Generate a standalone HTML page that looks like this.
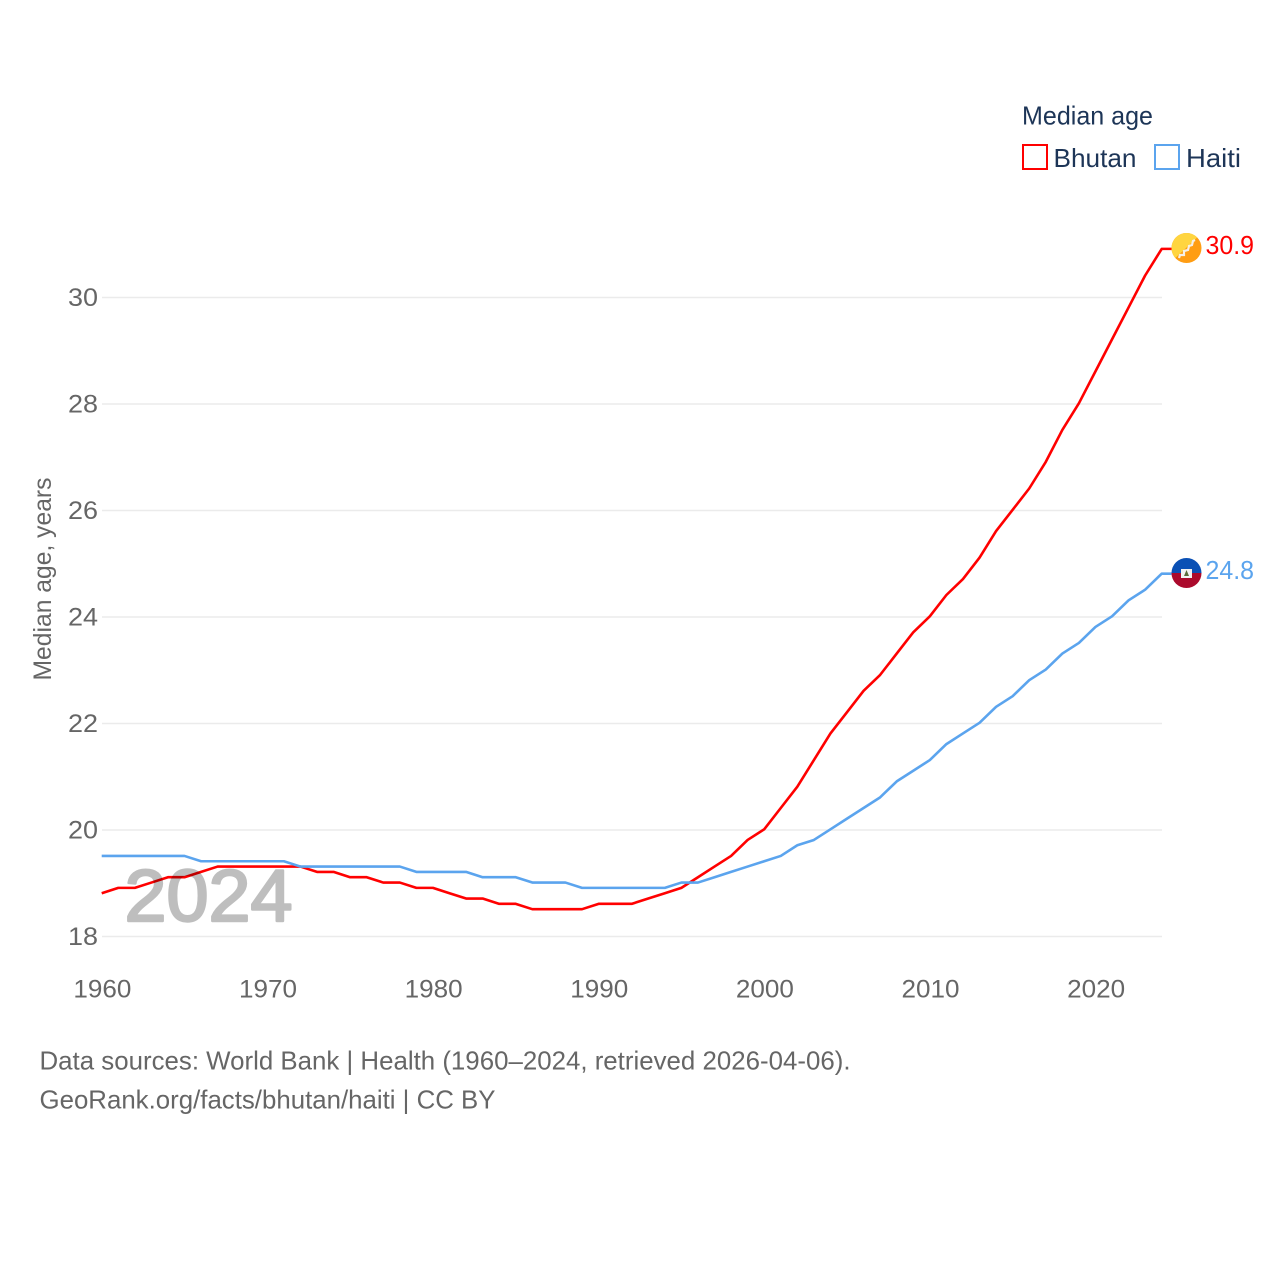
<!DOCTYPE html>
<html lang="en">
<head>
<meta charset="utf-8">
<title>Median age: Bhutan and Haiti</title>
<style>
html,body{margin:0;padding:0;background:#fff;width:1280px;height:1280px;overflow:hidden}
svg{display:block;font-family:"Liberation Sans",sans-serif}
</style>
</head>
<body>
<svg id="chart" xmlns="http://www.w3.org/2000/svg" width="1280" height="1280" viewBox="0 0 1280 1280">
  <defs>
    <clipPath id="flag-clip-bt"><circle cx="1186.5" cy="248" r="15"></circle></clipPath>
    <clipPath id="flag-clip-ht"><circle cx="1186.5" cy="573" r="15"></circle></clipPath>
  </defs>
  <g id="grid"></g>
  <g id="yticks"></g>
  <g id="xticks"></g>
  <text transform="translate(51,579) rotate(-90)" text-anchor="middle" font-size="25" fill="#666" textLength="203" lengthAdjust="spacingAndGlyphs">Median age, years</text>
  <g id="series" transform="translate(-0.3,-0.7)"></g>
  <g opacity="0.25">
    <text x="208.5" y="921" text-anchor="middle" font-size="73" font-weight="400" fill="#000" stroke="#000" stroke-width="2.4" stroke-linejoin="round" textLength="168" lengthAdjust="spacingAndGlyphs">2024</text>
  </g>

  <g>
    <text x="1022" y="124.5" font-size="26" fill="#1d3557" textLength="131" lengthAdjust="spacingAndGlyphs">Median age</text>
    <rect x="1023" y="145" width="24" height="24" fill="#fff" stroke="#ff0000" stroke-width="2"></rect>
    <text x="1053.5" y="167" font-size="26" fill="#1d3557" textLength="83" lengthAdjust="spacingAndGlyphs">Bhutan</text>
    <rect x="1155" y="145" width="24" height="24" fill="#fff" stroke="#5ba4ee" stroke-width="2"></rect>
    <text x="1186" y="167" font-size="26" fill="#1d3557" textLength="55" lengthAdjust="spacingAndGlyphs">Haiti</text>
  </g>

  <g clip-path="url(#flag-clip-bt)">
    <rect x="1170" y="232" width="33" height="32" fill="#ff9d13"></rect>
    <polygon points="1170,232 1203,232 1170,263" fill="#ffd540"></polygon>
    <polyline points="1179,258 1180,255 1184,255 1184,251 1188,250 1189,246 1192,245 1193,241 1195,240" fill="none" stroke="#f5f0e6" stroke-width="2.2"></polyline>
  </g>
  <g clip-path="url(#flag-clip-ht)">
    <rect x="1170" y="557" width="33" height="16" fill="#0a50b5"></rect>
    <rect x="1170" y="573" width="33" height="16" fill="#ab0a2c"></rect>
    <rect x="1181" y="569" width="11" height="9" fill="#f2f2f2"></rect>
    <polygon points="1186.5,570 1189,576 1184,576" fill="#5a6a3a"></polygon>
  </g>
  <text id="label-bhutan" x="1205.5" y="254" font-size="26" fill="#ff0000" textLength="48.5" lengthAdjust="spacingAndGlyphs">30.9</text>
  <text id="label-haiti" x="1205.5" y="579" font-size="26" fill="#5ba4ee" textLength="48.5" lengthAdjust="spacingAndGlyphs">24.8</text>

  <g>
    <text x="39.5" y="1069.5" font-size="26" fill="#666" textLength="811" lengthAdjust="spacingAndGlyphs">Data sources: World Bank | Health (1960–2024, retrieved 2026-04-06).</text>
    <text x="39.5" y="1108.5" font-size="26" fill="#666" textLength="456" lengthAdjust="spacingAndGlyphs">GeoRank.org/facts/bhutan/haiti | CC BY</text>
  </g>
</svg>
<script>
const startYear = 1960;
const bhutanValues = [18.8,18.9,18.9,19.0,19.1,19.1,19.2,19.3,19.3,19.3,19.3,19.3,19.3,19.2,19.2,19.1,19.1,19.0,19.0,18.9,18.9,18.8,18.7,18.7,18.6,18.6,18.5,18.5,18.5,18.5,18.6,18.6,18.6,18.7,18.8,18.9,19.1,19.3,19.5,19.8,20.0,20.4,20.8,21.3,21.8,22.2,22.6,22.9,23.3,23.7,24.0,24.4,24.7,25.1,25.6,26.0,26.4,26.9,27.5,28.0,28.6,29.2,29.8,30.4,30.9];
const haitiValues = [19.5,19.5,19.5,19.5,19.5,19.5,19.4,19.4,19.4,19.4,19.4,19.4,19.3,19.3,19.3,19.3,19.3,19.3,19.3,19.2,19.2,19.2,19.2,19.1,19.1,19.1,19.0,19.0,19.0,18.9,18.9,18.9,18.9,18.9,18.9,19.0,19.0,19.1,19.2,19.3,19.4,19.5,19.7,19.8,20.0,20.2,20.4,20.6,20.9,21.1,21.3,21.6,21.8,22.0,22.3,22.5,22.8,23.0,23.3,23.5,23.8,24.0,24.3,24.5,24.8];
const yTickValues = [18,20,22,24,26,28,30];
const xTickValues = [1960,1970,1980,1990,2000,2010,2020];

const NS = 'http://www.w3.org/2000/svg';
const xScale = function (year) { return 102 + (year - 1960) * 16.5625; };
const yScale = function (v) { return 936.5 - (v - 18) * 53.25; };

const grid = document.getElementById('grid');
const yticks = document.getElementById('yticks');
const xticks = document.getElementById('xticks');
const series = document.getElementById('series');

yTickValues.forEach(function (v) {
  const line = document.createElementNS(NS, 'line');
  
  
  line.setAttribute('x1', 102);
  line.setAttribute('x2', 1162);
  line.setAttribute('y1', yScale(v));
  line.setAttribute('y2', yScale(v));
  line.setAttribute('stroke', '#ebebeb');
  line.setAttribute('stroke-width', '1.5');
  grid.appendChild(line);

  const t = document.createElementNS(NS, 'text');
  
  
  t.setAttribute('x', 98);
  t.setAttribute('y', yScale(v) + 8.3);
  t.setAttribute('text-anchor', 'end');
  t.setAttribute('font-size', '25');
  t.setAttribute('fill', '#666');
  t.setAttribute('textLength', '30');
  t.setAttribute('lengthAdjust', 'spacingAndGlyphs');
  t.textContent = String(v);
  yticks.appendChild(t);
});

xTickValues.forEach(function (y) {
  const t = document.createElementNS(NS, 'text');
  
  
  t.setAttribute('x', xScale(y) + 0.4);
  t.setAttribute('y', 997.5);
  t.setAttribute('text-anchor', 'middle');
  t.setAttribute('font-size', '25');
  t.setAttribute('fill', '#666');
  t.setAttribute('textLength', '58');
  t.setAttribute('lengthAdjust', 'spacingAndGlyphs');
  t.textContent = String(y);
  xticks.appendChild(t);
});

function pathFor(values) {
  const pts = values.map(function (v, i) {
    return xScale(startYear + i).toFixed(2) + ',' + yScale(v).toFixed(2);
  });
  const lastY = yScale(values[values.length - 1]).toFixed(2);
  pts.push('1172,' + lastY);
  return 'M' + pts.join('L');
}

const redLine = document.createElementNS(NS, 'path');


redLine.setAttribute('d', pathFor(bhutanValues));
redLine.setAttribute('fill', 'none');
redLine.setAttribute('stroke', '#ff0000');
redLine.setAttribute('stroke-width', '2.6');
redLine.setAttribute('stroke-linejoin', 'round');
series.appendChild(redLine);

const blueLine = document.createElementNS(NS, 'path');


blueLine.setAttribute('d', pathFor(haitiValues));
blueLine.setAttribute('fill', 'none');
blueLine.setAttribute('stroke', '#5ba4ee');
blueLine.setAttribute('stroke-width', '2.6');
blueLine.setAttribute('stroke-linejoin', 'round');
series.appendChild(blueLine);

document.getElementById('label-bhutan').textContent = bhutanValues[bhutanValues.length - 1].toFixed(1);
document.getElementById('label-haiti').textContent = haitiValues[haitiValues.length - 1].toFixed(1);
</script>
</body>
</html>
